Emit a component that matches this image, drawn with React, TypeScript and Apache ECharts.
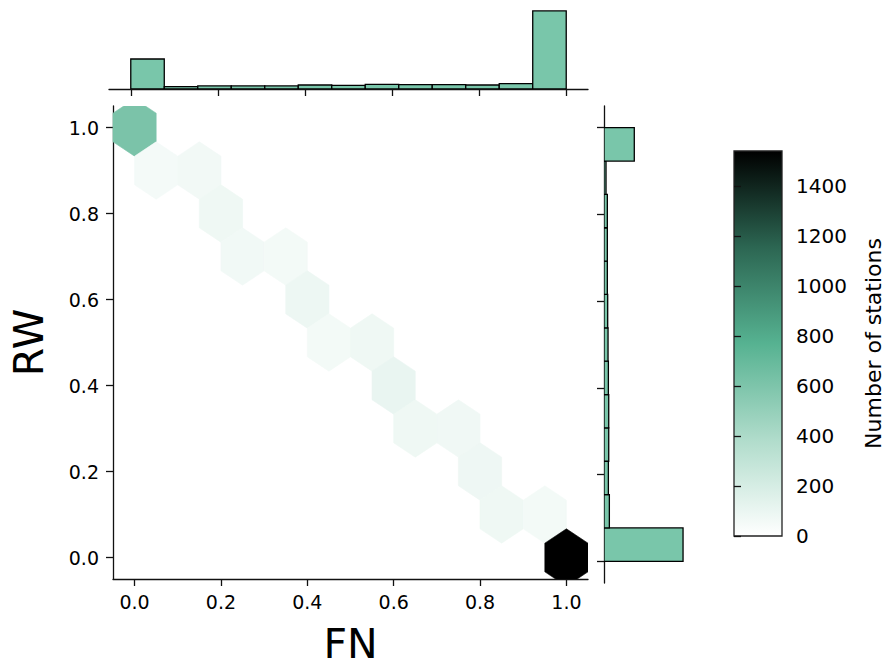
import React, { useEffect, useRef } from "react";
import * as echarts from "echarts";

// ---------- data ----------
const hexX = [0.0, 0.05, 0.15, 0.2, 0.25, 0.35, 0.4, 0.45, 0.55, 0.6, 0.65, 0.75, 0.8, 0.85, 0.95, 1.0];
const hexY = [1.0, 0.9, 0.9, 0.8, 0.7, 0.7, 0.6, 0.5, 0.5, 0.4, 0.3, 0.3, 0.2, 0.1, 0.1, 0.0];
const hexCounts = [610, 55, 65, 80, 70, 60, 90, 60, 80, 105, 80, 75, 85, 80, 60, 1539];

// marginal histograms: 13 bins over [0, 1]
const histBinCount = 13;
const xHistCounts = [615, 48, 62, 62, 62, 82, 75, 96, 89, 89, 82, 109, 1600];
const yHistCounts = [1605, 109, 89, 96, 96, 89, 82, 75, 68, 68, 68, 41, 615];

const axisTicks = [0, 0.2, 0.4, 0.6, 0.8, 1.0];
const cbarTicks = [0, 200, 400, 600, 800, 1000, 1200, 1400];
const cbarMax = 1539;

// ---------- style ----------
const FONT = "DejaVu Sans";
const CMAP = ["#ffffff", "#b0dccb", "#56b291", "#2c6652", "#000000"];
const BAR_FILL = "#79c6aa";
const AXIS_COLOR = "#111111";
const HEX_SX = 0.1;
const HEX_SY = 0.2;
const HEX_OFFSETS = [
  [0.5, -0.5],
  [0.5, 0.5],
  [0, 1],
  [-0.5, 0.5],
  [-0.5, -0.5],
  [0, -1],
];

const binEdges = Array.from({ length: histBinCount + 1 }, (_, i) => i / histBinCount);

export default function App() {
  const ref = useRef<HTMLDivElement>(null);

  useEffect(() => {
    if (!ref.current) return;
    const chart = echarts.init(ref.current, null, { renderer: "svg" });

    const lineStyle = { color: AXIS_COLOR, width: 1.3 };
    const xMax = Math.max(...xHistCounts) * 1.05;
    const yMax = Math.max(...yHistCounts) * 1.05;

    const gradient = new echarts.graphic.LinearGradient(0, 0, 0, 1, [
      { offset: 0, color: CMAP[4] },
      { offset: 0.25, color: CMAP[3] },
      { offset: 0.5, color: CMAP[2] },
      { offset: 0.75, color: CMAP[1] },
      { offset: 1, color: CMAP[0] },
    ]);

    const option: any = {
      animation: false,
      backgroundColor: "#ffffff",
      textStyle: { fontFamily: FONT },
      grid: [
        { left: 109, top: 106, width: 479, height: 477 },
        { left: 109, top: 7, width: 479, height: 82 },
        { left: 604, top: 106, width: 83, height: 477 },
        {
          left: 734,
          top: 151,
          width: 49,
          height: 385,
          show: true,
          backgroundColor: gradient,
          borderColor: "#222222",
          borderWidth: 1.3,
        },
      ],
      visualMap: {
        type: "continuous",
        show: false,
        min: 0,
        max: cbarMax,
        dimension: 2,
        seriesIndex: 0,
        inRange: { color: CMAP },
      },
      xAxis: [
        {
          gridIndex: 0,
          type: "value",
          min: -0.05,
          max: 1.05,
          axisLine: { show: true, onZero: false, lineStyle },
          axisTick: { show: true, length: 7, customValues: axisTicks, lineStyle },
          axisLabel: {
            customValues: axisTicks,
            formatter: (v: number) => v.toFixed(1),
            fontSize: 19,
            fontFamily: FONT,
            color: "#000",
            margin: 13,
          },
          splitLine: { show: false },
          name: "FN",
          nameLocation: "middle",
          nameGap: 44,
          nameTextStyle: { fontSize: 41, fontFamily: FONT, color: "#000" },
        },
        {
          gridIndex: 1,
          type: "value",
          min: -0.05,
          max: 1.05,
          axisLine: { show: true, onZero: false, lineStyle },
          axisTick: { show: true, length: 7, customValues: axisTicks, lineStyle },
          axisLabel: { show: false },
          splitLine: { show: false },
        },
        { gridIndex: 2, type: "value", min: 0, max: yMax, show: false },
        { gridIndex: 3, type: "value", min: 0, max: 1, show: false },
      ],
      yAxis: [
        {
          gridIndex: 0,
          type: "value",
          min: -0.05,
          max: 1.05,
          axisLine: { show: true, onZero: false, lineStyle },
          axisTick: { show: true, length: 7, customValues: axisTicks, lineStyle },
          axisLabel: {
            customValues: axisTicks,
            formatter: (v: number) => v.toFixed(1),
            fontSize: 19,
            fontFamily: FONT,
            color: "#000",
            margin: 14,
          },
          splitLine: { show: false },
          name: "RW",
          nameLocation: "middle",
          nameGap: 64,
          nameTextStyle: { fontSize: 41, fontFamily: FONT, color: "#000" },
        },
        { gridIndex: 1, type: "value", min: 0, max: xMax, show: false },
        {
          gridIndex: 2,
          type: "value",
          min: -0.05,
          max: 1.05,
          axisLine: { show: true, onZero: false, lineStyle },
          axisTick: { show: true, length: 7, customValues: axisTicks, lineStyle },
          axisLabel: { show: false },
          splitLine: { show: false },
        },
        {
          gridIndex: 3,
          type: "value",
          min: 0,
          max: cbarMax,
          position: "right",
          axisLine: { show: false },
          axisTick: { show: true, length: 7, customValues: cbarTicks, lineStyle },
          axisLabel: {
            customValues: cbarTicks,
            formatter: (v: number) => String(v),
            fontSize: 20,
            fontFamily: FONT,
            color: "#000",
            margin: 14,
          },
          splitLine: { show: false },
          name: "Number of stations",
          nameLocation: "middle",
          nameRotate: 90,
          nameGap: 80,
          nameTextStyle: { fontSize: 22, fontFamily: FONT, color: "#000" },
        },
      ],
      series: [
        {
          type: "custom",
          xAxisIndex: 0,
          yAxisIndex: 0,
          clip: true,
          encode: { x: 0, y: 1 },
          data: hexX.map((x, i) => [x, hexY[i], hexCounts[i]]),
          renderItem: (params: any, api: any) => {
            const cx = api.value(0);
            const cy = api.value(1);
            const pts = HEX_OFFSETS.map(([dx, dy]) =>
              api.coord([cx + dx * HEX_SX, cy + (dy * HEX_SY) / 3])
            );
            const c = api.visual("color");
            return {
              type: "polygon",
              shape: { points: pts },
              style: { fill: c, stroke: c, lineWidth: 0.6 },
            };
          },
        },
        {
          type: "custom",
          xAxisIndex: 1,
          yAxisIndex: 1,
          clip: true,
          encode: { x: [0, 1], y: 2 },
          data: xHistCounts.map((c, i) => [binEdges[i], binEdges[i + 1], c]),
          renderItem: (params: any, api: any) => {
            const p0 = api.coord([api.value(0), 0]);
            const p1 = api.coord([api.value(1), api.value(2)]);
            return {
              type: "rect",
              shape: { x: p0[0], y: p1[1], width: p1[0] - p0[0], height: p0[1] - p1[1] },
              style: { fill: BAR_FILL, stroke: "#000", lineWidth: 1.3 },
            };
          },
        },
        {
          type: "custom",
          xAxisIndex: 2,
          yAxisIndex: 2,
          clip: true,
          encode: { x: 0, y: [1, 2] },
          data: yHistCounts.map((c, i) => [c, binEdges[i], binEdges[i + 1]]),
          renderItem: (params: any, api: any) => {
            const p0 = api.coord([0, api.value(1)]);
            const p1 = api.coord([api.value(0), api.value(2)]);
            return {
              type: "rect",
              shape: { x: p0[0], y: p1[1], width: p1[0] - p0[0], height: p0[1] - p1[1] },
              style: { fill: BAR_FILL, stroke: "#000", lineWidth: 1.3 },
            };
          },
        },
      ],
    };

    chart.setOption(option);
    return () => chart.dispose();
  }, []);

  return (
    <div
      ref={ref}
      style={{ position: "fixed", left: 0, top: 0, width: 885, height: 669 }}
    />
  );
}
